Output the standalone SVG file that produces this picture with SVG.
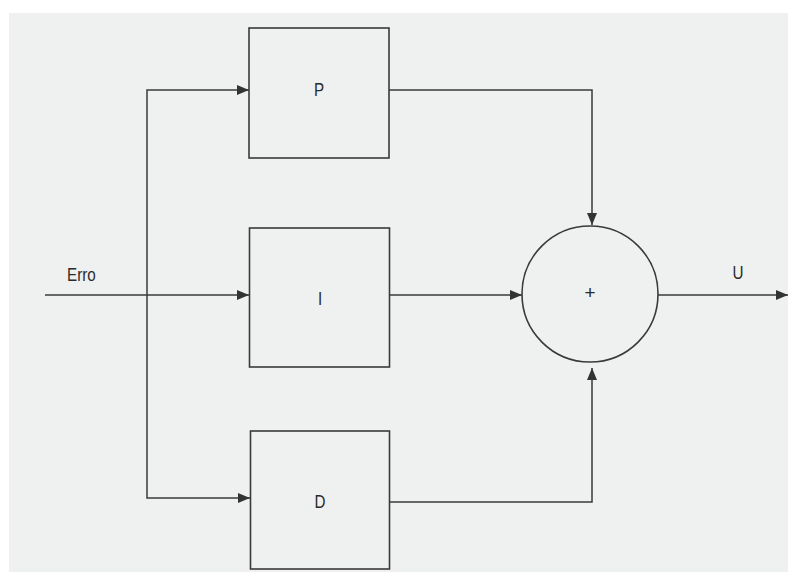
<svg xmlns="http://www.w3.org/2000/svg" width="788" height="572" viewBox="0 0 788 572">
<defs>
<style>
.box{fill:none;stroke:#3a3a3a;stroke-width:1.6}
.ln{fill:none;stroke:#3a3a3a;stroke-width:1.5}
.lbl{font-family:"Liberation Sans",Arial,sans-serif;font-size:19px;fill:#2a2a2a}
</style>
<marker id="ah" markerWidth="12" markerHeight="10" refX="12" refY="5" orient="auto" markerUnits="userSpaceOnUse">
<path d="M0,0 L12,5 L0,10 Z" fill="#333"/>
</marker>
</defs>
<rect width="788" height="572" fill="#ffffff"/>
<rect x="9" y="13" width="779" height="559" fill="#eff1f0"/>
<g id="connectors">
<line class="ln" x1="45" y1="295" x2="249" y2="295" marker-end="url(#ah)"/>
<polyline class="ln" points="147,295 147,90 249,90" marker-end="url(#ah)"/>
<polyline class="ln" points="147,295 147,498 250,498" marker-end="url(#ah)"/>
<polyline class="ln" points="389,90 592,90 592,225" marker-end="url(#ah)"/>
<line class="ln" x1="389" y1="295" x2="522" y2="295" marker-end="url(#ah)"/>
<polyline class="ln" points="390,502 592,502 592,368" marker-end="url(#ah)"/>
<line class="ln" x1="658" y1="295" x2="788" y2="295" marker-end="url(#ah)"/>
</g>
<g id="erro"><text class="lbl" transform="translate(67,281) scale(0.8,1)">Erro</text></g>
<g id="P"><rect class="box" x="249" y="28" width="140" height="130"/><text class="lbl" text-anchor="middle" transform="translate(319,96) scale(0.8,1)">P</text></g>
<g id="I"><rect class="box" x="249.5" y="228" width="140" height="139"/><text class="lbl" text-anchor="middle" transform="translate(320,305) scale(0.8,1)">I</text></g>
<g id="D"><rect class="box" x="250.5" y="431" width="139" height="138"/><text class="lbl" text-anchor="middle" transform="translate(320,508) scale(0.8,1)">D</text></g>
<g id="sum"><circle class="box" cx="590" cy="294" r="68"/><text class="lbl" x="590" y="299" text-anchor="middle" font-size="13">+</text></g>
<g id="U"><text class="lbl" text-anchor="middle" transform="translate(738,279) scale(0.8,1)">U</text></g>
</svg>
